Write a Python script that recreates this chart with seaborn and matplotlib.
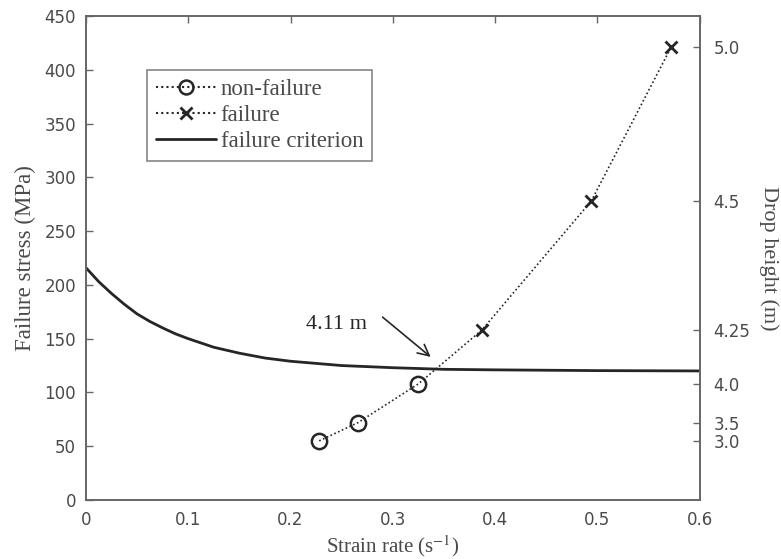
import matplotlib
matplotlib.use('Agg')
import matplotlib.pyplot as plt
from matplotlib.lines import Line2D
import seaborn as sns
import pandas as pd

# non-failure drops (circles)
nonfail_rate = [0.228, 0.266, 0.325]
nonfail_stress = [55, 72, 108]
# failure drops (crosses)
fail_rate = [0.387, 0.494, 0.572]
fail_stress = [158, 278, 421]
# failure criterion curve
crit_rate = [0, 0.0125, 0.025, 0.0375, 0.05, 0.0625, 0.075, 0.0875, 0.1,
             0.125, 0.15, 0.175, 0.2, 0.25, 0.3, 0.35, 0.4, 0.5, 0.6]
crit_stress = [216, 203, 192, 182, 173, 166, 160, 154.5, 150,
               142, 136.5, 132, 129, 125, 123, 121.5, 121, 120.3, 120]
# drop heights shown on the right axis, placed at the stress of each drop
drop_height_labels = ['3.0', '3.5', '4.0', '4.25', '4.5', '5.0']

sns.set_style('white')
plt.rcParams['font.family'] = ['Liberation Serif', 'DejaVu Serif']
plt.rcParams['mathtext.fontset'] = 'stix'

fig = plt.figure(figsize=(7.81, 5.59), dpi=100)
ax = fig.add_axes([0.110, 0.1055, 0.786, 0.866])

ink = '#262626'
edge = '#666666'
txt = '#4a4a4a'

drops = pd.DataFrame({'rate': nonfail_rate + fail_rate,
                      'stress': nonfail_stress + fail_stress})
sns.lineplot(data=drops, x='rate', y='stress', ax=ax, sort=False,
             color=ink, linestyle=(0, (1, 1.5)), linewidth=1.2)
sns.lineplot(x=crit_rate, y=crit_stress, ax=ax, color=ink, linewidth=2)
ax.plot(nonfail_rate, nonfail_stress, linestyle='none', marker='o',
        markersize=11, markerfacecolor='none', markeredgecolor=ink,
        markeredgewidth=1.8)
ax.plot(fail_rate, fail_stress, linestyle='none', marker='x',
        markersize=9, color=ink, markeredgewidth=2)

ax.set_xlim(0, 0.6)
ax.set_ylim(0, 450)
ax.set_xticks([0, 0.1, 0.2, 0.3, 0.4, 0.5, 0.6])
ax.set_xticklabels(['0', '0.1', '0.2', '0.3', '0.4', '0.5', '0.6'])
ax.set_yticks(range(0, 451, 50))

ax.tick_params(direction='in', length=5, width=1, colors=edge,
               labelcolor=txt, labelsize=12, top=True, right=False)
ax.tick_params(axis='x', pad=8)
ax.tick_params(axis='y', pad=7)
for lab in ax.get_xticklabels() + ax.get_yticklabels():
    lab.set_family('DejaVu Sans')
for s in ax.spines.values():
    s.set_color(edge)
    s.set_linewidth(1.2)

ax.set_xlabel('Strain rate (s$^{-1}$)', fontsize=15, color=txt, labelpad=3)
ax.set_ylabel('Failure stress (MPa)', fontsize=16.5, color=txt, labelpad=6)

ax2 = ax.twinx()
ax2.set_ylim(ax.get_ylim())
ax2.set_yticks(nonfail_stress + fail_stress)
ax2.set_yticklabels(drop_height_labels)
ax2.tick_params(direction='in', length=5, width=1, colors=edge,
                labelcolor=txt, labelsize=12, pad=10)
for lab in ax2.get_yticklabels():
    lab.set_family('DejaVu Sans')
for s in ax2.spines.values():
    s.set_color(edge)
    s.set_linewidth(1.2)
ax2.set_ylabel('Drop height (m)', fontsize=16, color=txt,
               rotation=270, labelpad=20)

# label and arrow pointing at the crossing with the criterion
ax.text(0.245, 163, '4.11 m', fontsize=16, color=ink,
        ha='center', va='center')
ax.annotate('', xy=(0.337, 133), xytext=(0.29, 170),
            arrowprops=dict(arrowstyle='->', color=ink, lw=1.2,
                            shrinkA=0, shrinkB=0, mutation_scale=20))

handles = [
    Line2D([], [], color=ink, linestyle=(0, (1, 1.5)), marker='o',
           markersize=10, markerfacecolor='none', markeredgewidth=1.8),
    Line2D([], [], color=ink, linestyle=(0, (1, 1.5)), marker='x',
           markersize=8, markeredgewidth=2),
    Line2D([], [], color=ink, linewidth=2),
]
leg = ax.legend(handles, ['non-failure', 'failure', 'failure criterion'],
                loc='upper left', bbox_to_anchor=(0.1, 0.888), fontsize=16.5,
                frameon=True, fancybox=False, handlelength=2.6,
                handletextpad=0.2, borderpad=0.4, labelspacing=0.2,
                borderaxespad=0)
leg.get_frame().set_edgecolor(edge)
leg.get_frame().set_linewidth(1.2)
for t in leg.get_texts():
    t.set_color(txt)

plt.savefig('out.png', dpi=100)
